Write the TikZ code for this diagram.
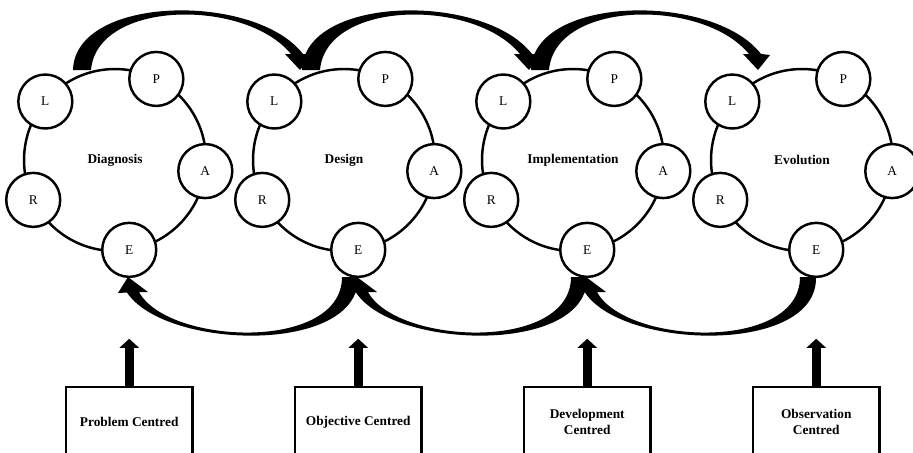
\documentclass[tikz,border=0pt]{standalone}
\usepackage{fontspec}
\setmainfont{Liberation Serif}
\usetikzlibrary{arrows.meta,calc}

\begin{document}
\begin{tikzpicture}[x=0.02cm,y=-0.02cm,
		stage/.style={circle,draw,line width=1.4pt,minimum size=3.64cm,inner sep=0pt,outer sep=0pt,font=\fontsize{7.6}{9}\selectfont\bfseries},
		part/.style={circle,draw,fill=white,line width=1.4pt,minimum size=1.08cm,inner sep=0pt,font=\fontsize{7.6}{9}\selectfont},
		focus/.style={rectangle,draw,line width=1.4pt,minimum width=2.54cm,minimum height=1.4cm,inner sep=1pt,align=center,font=\fontsize{7.6}{9.1}\selectfont\bfseries},
		push/.style={line width=0.18cm,-{Triangle[width=0.38cm,length=0.18cm]}}]
		\useasboundingbox (0,0) rectangle (913,453);
		\clip (0,0) rectangle (913,453);
		
		\node[stage] (c1) at (115,160) {Diagnosis};
		\node[stage] (c2) at (344,160) {Design};
		\node[stage] (c3) at (573,160) {Implementation};
		\node[stage] (c4) at (802,160) {Evolution};
		
		\foreach \i in {1,...,4} {
			\node[part] (l\i) at (c\i.140) {L};
			\node[part] (p\i) at (c\i.63) {P};
			\node[part] (a\i) at (c\i.-7) {A};
			\node[part] (e\i) at (c\i.-81) {E};
			\node[part] (r\i) at (c\i.206) {R};
		}
		
		\node[focus] (b1) at (e1 |- 0,422) {Problem Centred};
		\node[focus] (b2) at (e2 |- 0,422) {Objective Centred};
		\node[focus] (b3) at (e3 |- 0,422) {Development\\Centred};
		\node[focus] (b4) at (e4 |- 0,422) {Observation\\Centred};
		
		\foreach \i in {1,...,4} {
			\coordinate (t\i) at ($(b\i.north)+(0,-47)$);
			\draw[push] (b\i.north) -- (t\i);
		}
		
		\foreach \i in {1,2,3} {
			\begin{scope}[shift={(c\i.center)}]
				\fill (-42,-90) .. controls (-40,-165) and (140,-168) .. (188,-106)
					-- (197,-105) -- (185,-90) -- (170,-106) -- (176,-106)
					.. controls (130,-162) and (-18,-160) .. (-24,-90) -- cycle;
				\fill (243,117) .. controls (245,195) and (50,190) .. (12,132.5)
					-- (3,133) -- (13,117) -- (33,132) -- (24,132)
					.. controls (53,185) and (227,192) .. (227,117) -- cycle;
			\end{scope}
		}
	\end{tikzpicture}
\end{document}
